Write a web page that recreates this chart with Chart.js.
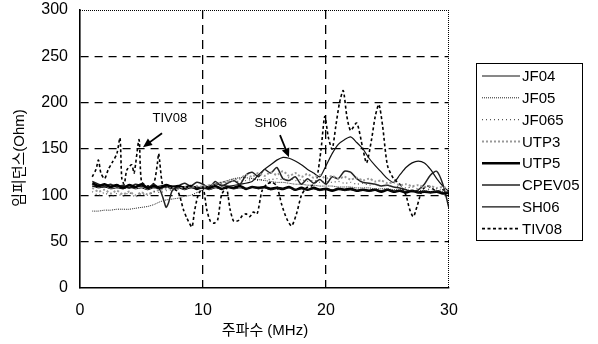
<!DOCTYPE html>
<html>
<head>
<meta charset="utf-8">
<script src="https://cdn.jsdelivr.net/npm/chart.js@4/dist/chart.umd.min.js"></script>
<style>
html,body{margin:0;padding:0;background:#fff;}
#wrap{width:598px;height:344px;position:relative;}
</style>
</head>
<body>
<div id="wrap"><canvas id="c" width="598" height="344"></canvas></div>
<script>
// ---- data ----
const seriesNames = ['JF04','JF05','JF065','UTP3','UTP5','CPEV05','SH06','TIV08'];
const xTicks = [0,10,20,30];
const yTicks = [0,50,100,150,200,250,300];

const freq = [1,1.5,2,2.5,3,3.5,4,4.5,5,5.5,6,6.5,7,7.5,8,8.5,9,9.5,10,10.5,11,11.5,12,12.5,13,13.5,14,14.5,15,15.5,16,16.5,17,17.5,18,18.5,19,19.5,20,20.5,21,21.5,22,22.5,23,23.5,24,24.5,25,25.5,26,26.5,27,27.5,28,28.5,29,29.5,30];

const jf04 = [110,108,109,107,108,107,109,107,108,106,108,107,109,107,108,106,108,107,108,106,108,107,109,107,108,107,109,107,108,106,108,107,108,106,107,106,107,105,107,106,107,105,106,105,106,104,106,105,106,104,105,104,105,103,104,103,104,103,103];
const jf05 = [83,83,84,84,85,85,85,86,87,88,90,93,95,96,97,99,100,103,106,109,112,114,116,118,119,119,118,117,116,115,114,114,113,112,112,111,111,110,110,110,109,109,109,108,108,108,107,107,107,106,106,106,105,105,105,104,104,104,103];
const jf065 = [104,100,103,98,102,99,103,98,102,100,104,103,105,106,107,108,108,109,110,111,112,113,114,115,115,116,117,116,118,117,118,117,119,116,117,115,116,114,115,114,115,113,114,112,113,111,112,110,111,109,110,108,109,107,108,106,107,105,106];
const utp3 = [108,104,106,102,105,101,104,100,103,101,104,106,107,108,107,109,108,110,109,111,112,114,115,117,118,122,120,124,121,125,122,126,121,124,120,123,119,122,118,121,118,120,117,119,116,118,115,116,113,114,111,112,110,111,109,110,108,109,107];
const utp5 = [113,110,112,109,111,108,111,109,112,108,110,108,111,109,110,108,110,107,109,108,110,107,109,108,110,107,109,108,109,107,108,107,109,106,108,106,108,106,107,105,107,106,107,105,106,105,106,104,106,104,105,103,105,103,104,103,104,102,103];

const cpevX = [1,1.5,2,2.5,3,3.5,4,4.5,5,5.5,6,6.5,6.8,7,7.2,7.5,8,8.5,9,9.5,10,10.5,11,11.5,12,12.5,13,13.5,14,14.5,15,15.5,16,16.5,17,17.5,18,18.5,19,19.5,20,20.5,21,21.5,22,22.5,23,23.5,24,24.5,25,25.5,26,26.5,27,27.5,28,28.5,29,29.5,30];
const cpev05 = [115,112,110,112,109,111,108,112,110,108,112,106,95,87,92,105,110,113,110,114,112,108,115,110,113,116,112,122,125,120,128,124,130,118,116,120,112,118,113,117,112,120,118,126,125,118,114,113,112,110,111,109,108,106,104,106,112,122,126,112,86];

const sh06X = [1,2,3,4,5,6,7,8,9,10,11,12,13,14,14.5,15,15.5,16,16.5,17,17.5,18,18.5,19,19.5,20,20.5,21,21.5,22,22.5,23,23.5,24,24.5,25,25.5,26,26.5,27,27.5,28,28.5,29,29.5,30];
const sh06 = [110,109,111,108,110,109,111,109,110,108,112,110,112,115,122,128,133,138,141,140,137,133,128,124,120,132,145,155,160,163,157,150,140,132,125,118,114,122,130,135,137,135,128,118,110,104];

const tivX = [1,1.3,1.5,1.7,2,2.3,2.6,3,3.25,3.4,3.6,3.8,4.2,4.4,4.8,5,5.5,6,6.3,6.4,6.7,7,7.5,8,8.4,8.7,9.1,9.3,9.6,10,10.3,10.6,10.9,11.2,11.5,11.9,12.2,12.5,12.9,13.2,13.5,13.8,14.1,14.4,14.8,15.2,15.6,16,16.4,16.8,17.2,17.6,18,18.4,18.8,19.2,19.6,19.9,20.2,20.5,20.8,21.1,21.4,21.7,22,22.5,23,23.3,23.7,24,24.3,24.6,25,25.5,26,26.5,26.8,27.1,27.4,27.8,28.2,28.6,29,29.5,30];
const tiv08 = [120,128,138,124,118,128,135,145,162,118,112,127,133,124,160,115,110,113,135,145,112,109,108,103,85,75,66,82,100,108,85,72,70,74,100,108,85,72,73,78,80,77,82,80,105,112,114,110,90,75,67,80,100,108,110,115,150,185,162,150,175,200,213,185,170,178,150,135,160,185,198,175,132,118,112,100,85,77,88,105,110,108,104,106,102];

const annoText = ['TIV08','SH06'];
const annoX = [7.3, 15.5];
const annoY = [183, 178];
const arrowFromX = [6.67, 16.26];
const arrowFromY = [167, 165];
const arrowToX = [5.12, 16.99];
const arrowToY = [152, 141];

// ---- styles ----
const styles = [
  {color:'#111', width:1, dash:[]},
  {color:'#222', width:1, dash:[1,1]},
  {color:'#555', width:1.2, dash:[1,3]},
  {color:'#999', width:2, dash:[2,2]},
  {color:'#000', width:2.6, dash:[]},
  {color:'#222', width:1.5, dash:[]},
  {color:'#111', width:1.2, dash:[]},
  {color:'#000', width:1.6, dash:[3,2.5]}
];
const xsList = [freq,freq,freq,freq,freq,cpevX,sh06X,tivX];
const ysList = [jf04,jf05,jf065,utp3,utp5,cpev05,sh06,tiv08];

const datasets = seriesNames.map((n,i)=>({
  label:n,
  data: xsList[i].map((x,j)=>({x:x,y:ysList[i][j]})),
  borderColor: styles[i].color,
  borderWidth: styles[i].width,
  borderDash: styles[i].dash,
  pointRadius:0,
  fill:false,
  tension:0.25
}));

const FONT = "'Liberation Sans', Arial, sans-serif";
const KFONT = "'Liberation Sans', 'Noto Sans CJK KR', sans-serif";

const extras = {
  id:'extras',
  afterDatasetsDraw(chart){
    const ctx = chart.ctx, a = chart.chartArea;
    const sx = chart.scales.x, sy = chart.scales.y;
    ctx.save();
    // dotted top/right frame
    ctx.strokeStyle='#000'; ctx.lineWidth=1; ctx.setLineDash([1,1]);
    ctx.beginPath();
    ctx.moveTo(a.left, a.top+0.5); ctx.lineTo(a.right, a.top+0.5);
    ctx.moveTo(a.right-0.5, a.top); ctx.lineTo(a.right-0.5, a.bottom);
    ctx.stroke();
    ctx.setLineDash([]);
    // annotations
    ctx.fillStyle='#000';
    ctx.font = '13px '+FONT;
    ctx.textAlign='center'; ctx.textBaseline='middle';
    for(let i=0;i<annoText.length;i++){
      ctx.fillText(annoText[i], sx.getPixelForValue(annoX[i]), sy.getPixelForValue(annoY[i]));
      const x1=sx.getPixelForValue(arrowFromX[i]), y1=sy.getPixelForValue(arrowFromY[i]);
      const x2=sx.getPixelForValue(arrowToX[i]), y2=sy.getPixelForValue(arrowToY[i]);
      const ang=Math.atan2(y2-y1,x2-x1);
      ctx.lineWidth=1.8; ctx.strokeStyle='#000';
      ctx.beginPath(); ctx.moveTo(x1,y1); ctx.lineTo(x2-Math.cos(ang)*6,y2-Math.sin(ang)*6); ctx.stroke();
      ctx.beginPath();
      ctx.moveTo(x2,y2);
      ctx.lineTo(x2-Math.cos(ang)*9+Math.sin(ang)*4, y2-Math.sin(ang)*9-Math.cos(ang)*4);
      ctx.lineTo(x2-Math.cos(ang)*9-Math.sin(ang)*4, y2-Math.sin(ang)*9+Math.cos(ang)*4);
      ctx.closePath(); ctx.fill();
    }
    // legend
    const lx=476, ly=63, lw=106, lh=177;
    ctx.fillStyle='#fff'; ctx.fillRect(lx,ly,lw,lh);
    ctx.strokeStyle='#000'; ctx.lineWidth=1;
    ctx.strokeRect(lx+0.5,ly+0.5,lw,lh);
    ctx.font='15px '+FONT; ctx.textAlign='left'; ctx.textBaseline='middle'; ctx.fillStyle='#000';
    chart.data.datasets.forEach((d,i)=>{
      const y = ly+13+i*21.8;
      ctx.save();
      ctx.strokeStyle=d.borderColor; ctx.lineWidth=d.borderWidth; ctx.setLineDash(d.borderDash);
      ctx.beginPath(); ctx.moveTo(lx+6,y); ctx.lineTo(lx+44,y); ctx.stroke();
      ctx.restore();
      ctx.fillText(d.label, lx+46, y+1);
    });
    // axis titles
    ctx.font='15px '+KFONT; ctx.textAlign='center'; ctx.textBaseline='middle';
    ctx.fillText('주파수 (MHz)', 265, 331);
    ctx.save();
    ctx.translate(20,158); ctx.rotate(-Math.PI/2);
    ctx.fillText('임피던스(Ohm)',0,0);
    ctx.restore();
    ctx.restore();
  }
};

new Chart(document.getElementById('c'), {
  type:'line',
  data:{datasets:datasets},
  options:{
    responsive:false, animation:false,
    layout:{padding:{top:10,right:149,left:0,bottom:0}},
    plugins:{legend:{display:false}, tooltip:{enabled:false}},
    scales:{
      x:{type:'linear', min:0, max:30,
        afterFit(s){ s.height=56; s.paddingLeft=0; s.paddingRight=0; },
        afterBuildTicks(s){ s.ticks = xTicks.map(v=>({value:v})); },
        ticks:{padding:13, color:'#000', font:{family:FONT,size:16}, maxRotation:0},
        grid:{drawTicks:false, lineWidth:1.3, color:(c)=> (c.tick && (c.tick.value===0||c.tick.value===30))?'rgba(0,0,0,0)':'#000'},
        border:{display:true, color:'#000', width:1.6, dash:[9,6]}
      },
      y:{type:'linear', min:0, max:300,
        afterFit(s){ s.width=80; s.paddingTop=0; s.paddingBottom=0; },
        afterBuildTicks(s){ s.ticks = yTicks.map(v=>({value:v})); },
        ticks:{padding:12, color:'#000', font:{family:FONT,size:16}},
        grid:{drawTicks:false, lineWidth:1.3, color:(c)=> (c.tick && (c.tick.value===0||c.tick.value===300))?'rgba(0,0,0,0)':'#000'},
        border:{display:true, color:'#000', width:1.6, dash:[8,6]}
      }
    }
  },
  plugins:[extras]
});
</script>
</body>
</html>
